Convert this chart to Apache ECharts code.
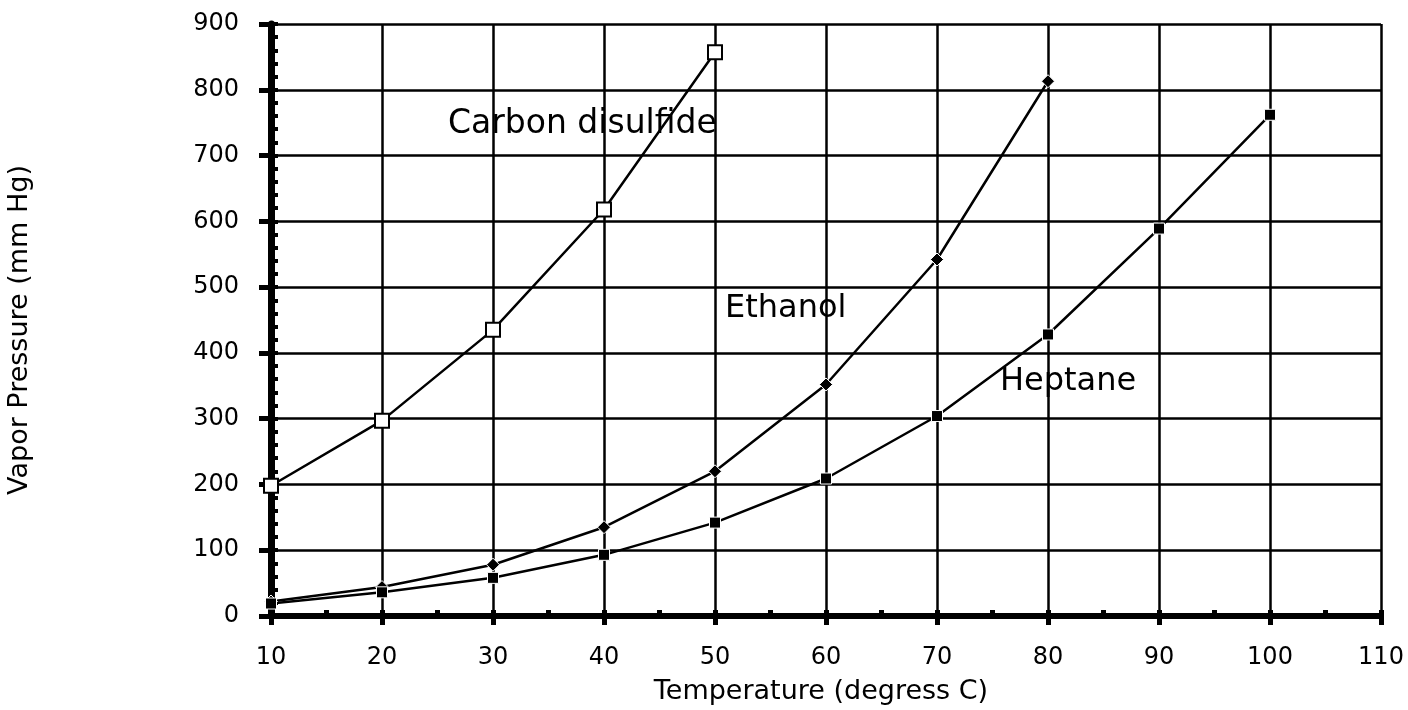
<!DOCTYPE html>
<html>
<head>
<meta charset="utf-8">
<script src="https://cdn.jsdelivr.net/npm/echarts@6/dist/echarts.min.js"></script>
<style>
  html, body { margin: 0; padding: 0; background: #fff; }
  #main { width: 1408px; height: 710px; }
</style>
</head>
<body>
<div id="main"></div>
<script>
// temperatures (degrees C)
var tempsCS2 = [10, 20, 30, 40, 50];
var tempsEthanol = [10, 20, 30, 40, 50, 60, 70, 80];
var tempsHeptane = [10, 20, 30, 40, 50, 60, 70, 80, 90, 100];
// vapor pressure (mm Hg)
var carbonDisulfide = [198, 297, 435, 618, 857];
var ethanol = [22, 44, 78, 135, 220, 352, 542, 813];
var heptane = [19, 36, 58, 93, 142, 209, 304, 428, 589, 762];

var seriesNames = ['Carbon disulfide', 'Ethanol', 'Heptane'];
var xTitle = 'Temperature (degress C)';
var yTitle = 'Vapor Pressure (mm Hg)';

var FONT = '"DejaVu Sans", Verdana, sans-serif';

function pairs(xs, ys) {
    var out = [];
    for (var i = 0; i < xs.length; i++) {
        out.push([xs[i], ys[i]]);
    }
    return out;
}

var chart = echarts.init(document.getElementById('main'));

var option = {
    animation: false,
    backgroundColor: '#fff',
    grid: {
        left: 271,
        right: 27,
        top: 24,
        bottom: 94,
        containLabel: false,
        outerBoundsMode: 'none'
    },
    xAxis: [
        {
            type: 'value',
            min: 10,
            max: 110,
            interval: 10,
            position: 'bottom',
            axisLine: {show: true, lineStyle: {color: '#000', width: 6}},
            axisTick: {show: true, inside: false, length: 9, lineStyle: {color: '#000', width: 5}},
            axisLabel: {color: '#000', fontFamily: FONT, fontSize: 24, margin: 30},
            splitLine: {show: true, lineStyle: {color: '#000', width: 2.5}}
        },
        {
            // inner minor ticks
            type: 'value',
            min: 10,
            max: 110,
            interval: 5,
            position: 'bottom',
            offset: 0,
            axisLine: {show: false},
            axisTick: {show: true, inside: true, length: 6, lineStyle: {color: '#000', width: 5}},
            axisLabel: {show: false},
            splitLine: {show: false}
        }
    ],
    yAxis: [
        {
            type: 'value',
            min: 0,
            max: 900,
            interval: 100,
            position: 'left',
            axisLine: {show: true, lineStyle: {color: '#000', width: 7}},
            axisTick: {show: true, inside: false, length: 12, lineStyle: {color: '#000', width: 5}},
            axisLabel: {color: '#000', fontFamily: FONT, fontSize: 24, margin: 32},
            splitLine: {show: true, lineStyle: {color: '#000', width: 2.5}}
        },
        {
            // inner minor ticks
            type: 'value',
            min: 0,
            max: 900,
            interval: 20,
            position: 'left',
            offset: 0,
            axisLine: {show: false},
            axisTick: {show: true, inside: true, length: 7, lineStyle: {color: '#000', width: 4}},
            axisLabel: {show: false},
            splitLine: {show: false}
        }
    ],
    series: [
        {
            name: seriesNames[0],
            type: 'line',
            data: pairs(tempsCS2, carbonDisulfide),
            symbol: 'rect',
            symbolSize: 14,
            lineStyle: {color: '#000', width: 2.5},
            itemStyle: {color: '#fff', borderColor: '#000', borderWidth: 2},
            z: 5
        },
        {
            name: seriesNames[1],
            type: 'line',
            data: pairs(tempsEthanol, ethanol),
            symbol: 'diamond',
            symbolSize: 13,
            lineStyle: {color: '#000', width: 2.5},
            itemStyle: {color: '#000', borderColor: '#fff', borderWidth: 1},
            z: 5
        },
        {
            name: seriesNames[2],
            type: 'line',
            data: pairs(tempsHeptane, heptane),
            symbol: 'rect',
            symbolSize: 11,
            lineStyle: {color: '#000', width: 2.5},
            itemStyle: {color: '#000', borderColor: '#fff', borderWidth: 1},
            z: 5
        }
    ],
    graphic: [
        {
            type: 'text', x: 448, y: 124,
            style: {text: seriesNames[0], fill: '#000', font: '33px ' + FONT, verticalAlign: 'middle'}
        },
        {
            type: 'text', x: 725, y: 309,
            style: {text: seriesNames[1], fill: '#000', font: '32px ' + FONT, verticalAlign: 'middle'}
        },
        {
            type: 'text', x: 1000, y: 382,
            style: {text: seriesNames[2], fill: '#000', font: '32px ' + FONT, verticalAlign: 'middle'}
        },
        {
            type: 'text', x: 821, y: 692,
            style: {text: xTitle, fill: '#000', font: '27px ' + FONT, align: 'center', verticalAlign: 'middle'}
        },
        {
            type: 'text', x: 20, y: 330, rotation: Math.PI / 2,
            style: {text: yTitle, fill: '#000', font: '27px ' + FONT, align: 'center', verticalAlign: 'middle'}
        }
    ]
};

chart.setOption(option);
</script>
</body>
</html>
